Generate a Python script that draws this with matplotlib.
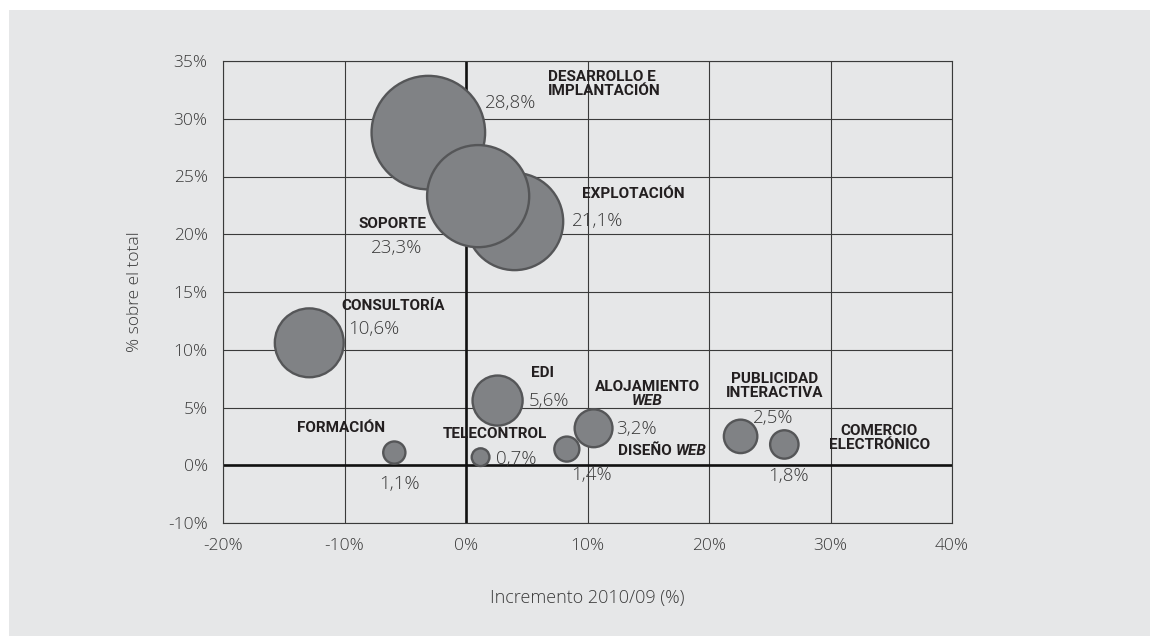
import matplotlib
matplotlib.use("Agg")
import matplotlib.pyplot as plt
from matplotlib.patches import Rectangle
import numpy as np

# ---- data (drawing order: Soporte on top of Desarrollo / Explotación) ----
names = ["DESARROLLO E\nIMPLANTACIÓN", "EXPLOTACIÓN", "SOPORTE", "CONSULTORÍA", "EDI",
         "FORMACIÓN", "TELECONTROL", "DISEÑO", "ALOJAMIENTO", "PUBLICIDAD\nINTERACTIVA",
         "COMERCIO\nELECTRÓNICO"]
increment = [-3.1, 4.0, 1.0, -12.9, 2.6, -5.9, 1.2, 8.3, 10.5, 22.6, 26.2]
share = [28.8, 21.1, 23.3, 10.6, 5.6, 1.1, 0.7, 1.4, 3.2, 2.5, 1.8]
share_labels = ["28,8%", "21,1%", "23,3%", "10,6%", "5,6%", "1,1%", "0,7%", "1,4%",
                "3,2%", "2,5%", "1,8%"]
x_ticks = [-20, -10, 0, 10, 20, 30, 40]
y_ticks = [-10, 0, 5, 10, 15, 20, 25, 30, 35]

# ---- style ----
BG = "#e6e7e8"
BUBBLE = "#808285"
EDGE = "#555658"
GRID = "#3a3a3a"
TXT = "#231f20"
LIGHT_TXT = "#3a3a3a"
BOLD_FONT = ["Roboto", "DejaVu Sans"]
LIGHT_FONT = ["Open Sans", "DejaVu Sans"]
BOLD_SIZE = 11

plt.rcParams["font.family"] = LIGHT_FONT

fig = plt.figure(figsize=(11.5, 6.36), dpi=100, facecolor="white")
fig.patches.append(Rectangle((9 / 1150, 0), 1, 1 - 10 / 636, transform=fig.transFigure,
                             facecolor=BG, edgecolor="none", zorder=-10))
ax = fig.add_axes([223 / 1150, 1 - 523 / 636, 729 / 1150, 462 / 636])
ax.set_facecolor(BG)


def fwd(y):
    y = np.asarray(y, dtype=float)
    return np.where(y >= 0, y, y / 2)


def inv(y):
    y = np.asarray(y, dtype=float)
    return np.where(y >= 0, y, y * 2)


ax.set_yscale("function", functions=(fwd, inv))
ax.set_xlim(-20, 40)
ax.set_ylim(-10, 35)
ax.set_xticks(x_ticks)
ax.set_xticklabels([f"{v}%" for v in x_ticks])
ax.set_yticks(y_ticks)
ax.set_yticklabels([f"{v}%" for v in y_ticks])
ax.tick_params(length=0, labelsize=12.5, labelcolor=LIGHT_TXT, width=0)
ax.tick_params(axis="y", pad=11)
ax.tick_params(axis="x", pad=11)
for lab in ax.get_xticklabels() + ax.get_yticklabels():
    lab.set_fontweight("light")

ax.grid(True, color=GRID, linewidth=0.8, zorder=0)
ax.set_axisbelow(True)
for s in ax.spines.values():
    s.set_color(GRID)
    s.set_linewidth(0.8)
ax.axhline(0, color="#111111", linewidth=1.9, zorder=1)
ax.axvline(0, color="#111111", linewidth=1.9, zorder=1)

sizes = [232 * v for v in share]
ax.scatter(increment, share, s=sizes, color=BUBBLE, edgecolor=EDGE, linewidth=1.7,
           zorder=3, clip_on=False)

ax.set_xlabel("Incremento 2010/09 (%)", fontsize=13, color=LIGHT_TXT, labelpad=25,
              fontweight="light")
ax.set_ylabel("% sobre el total", fontsize=12.5, color=LIGHT_TXT, labelpad=18,
              fontweight="light")

PX = 0.72  # pixels -> points
# offsets (dx, dy) in pixels from bubble centre, alignments
name_pos = [(120, 49, "left"), (67, 28, "left"), (-52, -28, "right"), (32, 37, "left"),
            (33, 28, "left"), (-9, 25, "right"), (14, 23, "center"), (51, -2, "left"),
            (54, 41, "center"), (34, 50, "center"), (95, 6, "center")]
val_pos = [(57, 30, "left"), (57, 1, "left"), (-82, -52, "center"), (39, 14, "left"),
           (31, 0, "left"), (5, -31, "center"), (15, -2, "left"), (25, -26, "center"),
           (23, -1, "left"), (33, 18, "center"), (4, -32, "center")]

for i, (x, y) in enumerate(zip(increment, share)):
    dx, dy, ha = name_pos[i]
    t = ax.annotate(names[i], (x, y), xytext=(dx * PX, dy * PX), textcoords="offset points",
                    ha=ha, va="center", fontsize=BOLD_SIZE, fontweight="bold",
                    family=BOLD_FONT, color=TXT, linespacing=1.0, zorder=5,
                    multialignment="left" if ha == "left" else "center")
    if names[i] == "DISEÑO":
        ax.annotate("WEB", (1, 0.5), xycoords=t, xytext=(3, 0), textcoords="offset points",
                    ha="left", va="center", fontsize=BOLD_SIZE, fontweight="bold",
                    style="italic", family=BOLD_FONT, color=TXT, zorder=5)
    if names[i] == "ALOJAMIENTO":
        ax.annotate("WEB", (0.5, 0), xycoords=t, xytext=(0, 0), textcoords="offset points",
                    ha="center", va="top", fontsize=BOLD_SIZE, fontweight="bold",
                    style="italic", family=BOLD_FONT, color=TXT, zorder=5)
    dx, dy, ha = val_pos[i]
    ax.annotate(share_labels[i], (x, y), xytext=(dx * PX, dy * PX), textcoords="offset points",
                ha=ha, va="center", fontsize=13.5, fontweight="light", color=LIGHT_TXT,
                zorder=5)

fig.savefig("out.png", dpi=100, facecolor=fig.get_facecolor())
